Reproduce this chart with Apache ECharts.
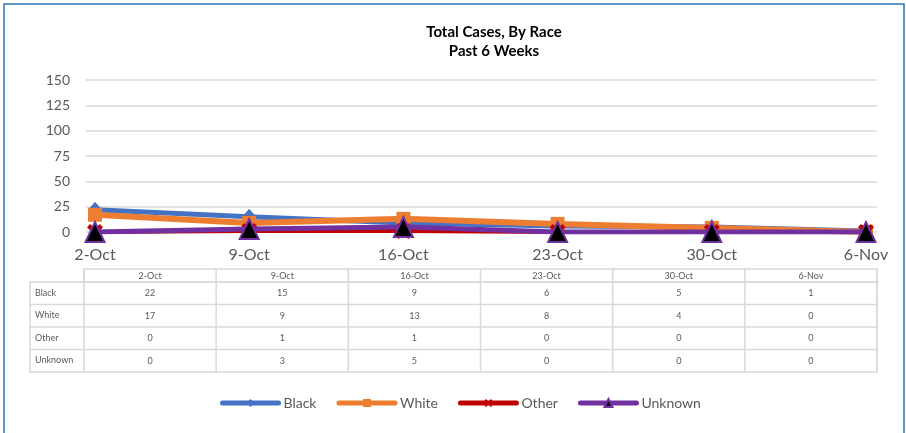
<!DOCTYPE html>
<html>
<head>
<meta charset="utf-8">
<script src="https://cdn.jsdelivr.net/npm/echarts@6/dist/echarts.min.js"></script>
<style>
html,body{margin:0;padding:0;background:#fff;}
#c{width:906px;height:433px;}
</style>
</head>
<body>
<div id="c"></div>
<script>
const categories = ['2-Oct', '9-Oct', '16-Oct', '23-Oct', '30-Oct', '6-Nov'];
const seriesNames = ['Black', 'White', 'Other', 'Unknown'];
const blackValues = [22, 15, 9, 6, 5, 1];
const whiteValues = [17, 9, 13, 8, 4, 0];
const otherValues = [0, 1, 1, 0, 0, 0];
const unknownValues = [0, 3, 5, 0, 0, 0];
const yTicks = [0, 25, 50, 75, 100, 125, 150];

const allValues = [blackValues, whiteValues, otherValues, unknownValues];
const FONT = 'Lato, "Open Sans", sans-serif';
const GREY = '#595959';
const LINE = '#d9d9d9';

const chart = echarts.init(document.getElementById('c'), null, {renderer: 'canvas'});

// data table layout
const tblLeft = 30, colStart = 84, tblRight = 877;
const colW = (tblRight - colStart) / categories.length;
const headTop = 269, headBottom = 282, rowH = 22.5;
const g = [];
// outer border
g.push({type: 'rect', shape: {x: 4, y: 4, width: 900, height: 440}, style: {fill: 'none', stroke: '#2E75B6', lineWidth: 1.5}, z: 100});
// header row
g.push({type: 'rect', shape: {x: colStart, y: headTop, width: tblRight - colStart, height: headBottom - headTop}, style: {fill: 'none', stroke: LINE, lineWidth: 1.5}});
const tblBottom = headBottom + rowH * seriesNames.length;
g.push({type: 'rect', shape: {x: tblLeft, y: headBottom, width: tblRight - tblLeft, height: tblBottom - headBottom}, style: {fill: 'none', stroke: LINE, lineWidth: 1.5}});
for (let i = 0; i <= categories.length; i++) {
  const x = colStart + i * colW;
  g.push({type: 'line', shape: {x1: x, y1: headTop, x2: x, y2: tblBottom}, style: {stroke: LINE, lineWidth: 1.5}});
}
for (let r = 1; r < seriesNames.length; r++) {
  const y = headBottom + r * rowH;
  g.push({type: 'line', shape: {x1: tblLeft, y1: y, x2: tblRight, y2: y}, style: {stroke: LINE, lineWidth: 1.5}});
}
categories.forEach((c, i) => {
  g.push({type: 'text', x: colStart + (i + 0.5) * colW, y: (headTop + headBottom) / 2 + 0.5,
    style: {text: c, fill: GREY, font: '9px ' + FONT, textAlign: 'center', textVerticalAlign: 'middle'}});
});
seriesNames.forEach((n, r) => {
  const yc = headBottom + (r + 0.5) * rowH;
  g.push({type: 'text', x: tblLeft + 5, y: yc - 0.5,
    style: {text: n, fill: GREY, font: '9px ' + FONT, textAlign: 'left', textVerticalAlign: 'middle'}});
  allValues[r].forEach((v, i) => {
    g.push({type: 'text', x: colStart + (i + 0.5) * colW, y: yc,
      style: {text: String(v), fill: GREY, font: '9px ' + FONT, textAlign: 'center', textVerticalAlign: 'middle'}});
  });
});

const xShape = 'path://M0,2L2,0L5,3L8,0L10,2L7,5L10,8L8,10L5,7L2,10L0,8L3,5Z';

const option = {
  backgroundColor: '#fff',
  animation: false,
  textStyle: {fontFamily: FONT},
  title: {
    text: 'Total Cases, By Race\nPast 6 Weeks',
    left: 489, top: 18, textAlign: 'center',
    textStyle: {fontFamily: FONT, fontSize: 15, fontWeight: 'bold', color: '#000', lineHeight: 19}
  },
  legend: {
    left: 220, top: 396, padding: 0,
    itemWidth: 56, itemHeight: 10, itemGap: 20,
    textStyle: {fontFamily: FONT, fontSize: 14, color: GREY},
    lineStyle: {width: 5, cap: 'round'},
    data: seriesNames
  },
  grid: [
    {left: 86, right: 29, top: 80, bottom: 201},
    {left: 95, right: 40, top: 80, bottom: 201}
  ],
  xAxis: [
    {gridIndex: 0, type: 'category', data: categories, show: false},
    {gridIndex: 1, type: 'category', data: categories, boundaryGap: false,
      axisLine: {show: false}, axisTick: {show: false},
      axisLabel: {fontFamily: FONT, fontSize: 16, color: GREY, margin: 15}}
  ],
  yAxis: [
    {gridIndex: 0, type: 'value', min: 0, max: 150, interval: 25,
      axisLine: {show: false}, axisTick: {show: false},
      axisLabel: {fontFamily: FONT, fontSize: 14, color: GREY, margin: 16,
        formatter: v => yTicks.includes(v) ? String(v) : ''},
      splitLine: {lineStyle: {color: LINE, width: 1.5}}},
    {gridIndex: 1, type: 'value', min: 0, max: 150, interval: 25, show: false, splitLine: {show: false}}
  ],
  series: [
    {name: 'Black', type: 'line', xAxisIndex: 1, yAxisIndex: 1, data: blackValues,
      symbol: 'diamond', symbolSize: [14, 16], showAllSymbol: true,
      lineStyle: {color: '#4472C4', width: 5}, itemStyle: {color: '#4472C4'}, z: 2},
    {name: 'White', type: 'line', xAxisIndex: 1, yAxisIndex: 1, data: whiteValues,
      symbol: 'rect', symbolSize: 14,
      lineStyle: {color: '#ED7D31', width: 6}, itemStyle: {color: '#ED7D31'}, z: 3},
    {name: 'Other', type: 'line', xAxisIndex: 1, yAxisIndex: 1, data: otherValues,
      symbol: xShape, symbolSize: 16,
      lineStyle: {color: '#C00000', width: 4}, itemStyle: {color: '#C00000'}, z: 4},
    {name: 'Unknown', type: 'line', xAxisIndex: 1, yAxisIndex: 1, data: unknownValues,
      symbol: 'triangle', symbolSize: [19, 20],
      lineStyle: {color: '#7030A0', width: 5},
      itemStyle: {color: '#000', borderColor: '#7030A0', borderWidth: 2}, z: 5}
  ],
  graphic: g
};
chart.setOption(option);
</script>
</body>
</html>
